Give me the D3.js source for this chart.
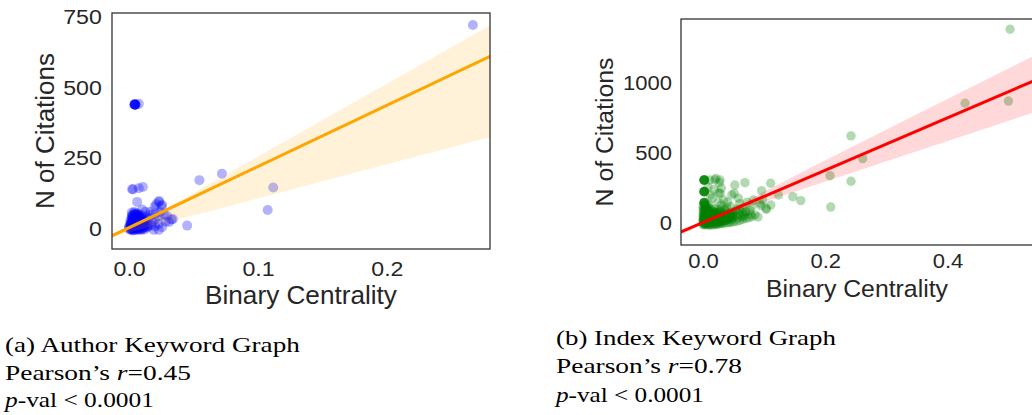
<!DOCTYPE html>
<html><head><meta charset="utf-8">
<script src="https://cdn.jsdelivr.net/npm/d3@7"></script>
<style>html,body{margin:0;padding:0;background:#fff;overflow:hidden}</style>
</head><body>
<svg id="chart" width="1032" height="415" xmlns="http://www.w3.org/2000/svg"></svg>
<script>
// ---------------- DATA ----------------
// (a) Author Keyword Graph: [binary centrality, number of citations]
const authorOutliers = [[0.2667,722],[0.0545,173],[0.072,196],[0.1118,147],[0.1075,67],[0.045,12],
  [0.0023,141],[0.0030,141],[0.0075,144],[0.0106,149],[0.0062,96]];
const authorStack = [[0.0040,441],[0.0042,441],[0.0044,440],[0.0046,441],[0.0048,441],[0.0050,440],[0.0043,442],[0.0047,440],[0.0075,443]];
const authorMid = [[0.0101,69],[0.0126,61],[0.023,96],[0.025,81],[0.0199,79],[0.0165,61],[0.0295,46],[0.0328,34],
  [0.0282,26],[0.0256,6],[0.0225,44],[0.0199,32],[0.0173,14],[0.023,18],[0.0153,38],[0.0126,20],[0.0204,55],[0.0134,44],
  [0.0191,-3],[0.023,-3],[0.0233,99],[0.0256,85],[0.021,88],[0.034,35],[0.031,25],[0.024,60],[0.027,50],[0.018,25],
  [0.015,10],[0.011,30],[0.009,45],[0.014,5],[0.016,50],[0.02,10]];
const authorBlob = [[0.000,0],[0.001,2],[0.002,5],[0.003,1],[0.004,8],[0.005,3],[0.006,10],[0.007,4],[0.008,12],[0.009,6],
  [0.010,2],[0.011,8],[0.000,10],[0.001,15],[0.002,20],[0.003,12],[0.004,25],[0.005,18],[0.006,30],[0.007,22],[0.008,28],
  [0.009,16],[0.010,20],[0.001,30],[0.002,35],[0.003,28],[0.004,40],[0.005,45],[0.006,38],[0.007,48],[0.008,42],[0.003,50],
  [0.004,55],[0.005,52],[0.006,56],[0.001,-2],[0.002,-4],[0.003,-5],[0.004,-3],[0.005,-1],[0.006,-4],[0.007,0],[0.008,-2],
  [0.009,-3],[0.010,-1],[0.012,-2],[0.002,42],[0.001,22],[0.000,5],[0.003,33],[0.004,17],[0.005,27],[0.006,21],[0.007,35],
  [0.008,33],[0.012,12],[0.011,40],[0.009,50],[0.004,60],[0.002,58]];
const authorCore = [[0.002,10],[0.003,15],[0.004,20],[0.005,25],[0.006,15],[0.007,10],[0.008,18],[0.002,25],[0.003,38],
  [0.004,32],[0.005,40],[0.006,45],[0.007,30],[0.008,24],[0.009,30],[0.010,35],[0.002,48],[0.003,44],[0.005,50],[0.006,48],
  [0.007,52],[0.001,8],[0.002,14],[0.003,22],[0.004,12],[0.005,8],[0.006,5],[0.007,15],[0.008,6],[0.009,10],[0.010,14],
  [0.011,18],[0.003,2],[0.004,4],[0.005,6],[0.006,2],[0.001,18],[0.002,0],[0.004,35],[0.005,30],[0.006,26],[0.007,40],
  [0.008,36],[0.009,25],[0.010,28],[0.011,22],[0.012,5],[0.013,10],[0.014,20],[0.012,28]];
const authorFitX = [-0.0133, 0.28];
const authorFitY = [-24, 611];
const authorBandX  = [-0.0133, 0.0, 0.01, 0.02, 0.04, 0.07, 0.1, 0.15, 0.2, 0.25, 0.28];
const authorBandLo = [-30, -12, 0, 12, 36, 72, 108, 169, 229, 289, 325];
const authorBandHi = [-18, 8, 30, 54, 102, 180, 257, 386, 514, 643, 720];
const authorXTicks = [0.0, 0.1, 0.2];
const authorYTicks = [0, 250, 500, 750];

// (b) Index Keyword Graph
const indexOutliers = [[0.5025,1386],[0.4288,857],[0.4998,873],[0.2422,624],[0.2614,462],[0.2078,340],[0.2422,300],[0.209,116]];
const indexStacks = [[0.001,309],[0.002,309],[0.0025,310],[0.0015,308],[0.003,309],[0.002,308],[0.0018,310],
  [0.001,226],[0.002,226],[0.0025,227],[0.0015,225],[0.003,226],[0.002,225],[0.0018,227],
  [0.001,147],[0.002,147],[0.0025,148],[0.0015,146],[0.003,147],[0.002,146],[0.0018,148]];
const indexMid = [[0.011,309],[0.0196,309],[0.028,309],[0.021,321],[0.0267,290],[0.026,216],[0.028,214],
  [0.052,273],[0.0687,290],[0.1107,286],[0.096,233],[0.1233,202],[0.147,190],[0.16,162],[0.111,131],[0.104,100],
  [0.0824,166],[0.093,143],[0.077,90],[0.066,47],[0.047,202],[0.051,214],[0.0977,166],[0.095,126],[0.0339,166],
  [0.078,64],[0.103,107],[0.015,180],[0.03,130],[0.04,150],[0.045,120],[0.055,100],[0.06,140],[0.035,100],[0.025,150],
  [0.065,110],[0.07,80],[0.085,60],[0.09,45],[0.08,120],[0.072,150],[0.058,180],[0.012,200],[0.018,240],[0.008,260],[0.03,250]];
const indexBlob = [[0.000,0],[0.001,5],[0.002,-5],[0.003,10],[0.004,2],[0.005,15],[0.006,-3],[0.007,8],[0.008,20],[0.009,4],
  [0.010,12],[0.011,-6],[0.012,18],[0.013,6],[0.014,25],[0.015,0],[0.016,14],[0.017,30],[0.018,9],[0.019,22],[0.020,-2],
  [0.021,35],[0.022,16],[0.023,28],[0.024,5],[0.025,40],[0.026,20],[0.027,12],[0.028,45],[0.029,30],[0.030,8],[0.031,52],
  [0.032,24],[0.033,38],[0.034,15],[0.035,58],[0.036,33],[0.037,47],[0.038,20],[0.039,62],[0.040,40],[0.041,28],[0.042,55],
  [0.043,70],[0.044,35],[0.045,48],[0.046,80],[0.047,25],[0.048,60],[0.049,42],[0.050,72],[0.052,55],[0.054,88],[0.056,40],
  [0.058,66],[0.060,95],[0.062,50],[0.064,78],[0.067,60],[0.070,85],[0.000,20],[0.001,40],[0.002,60],[0.003,80],[0.004,100],
  [0.002,30],[0.003,50],[0.004,70],[0.005,90],[0.006,110],[0.001,25],[0.005,35],[0.006,55],[0.007,75],[0.008,95],[0.009,45],
  [0.010,65],[0.011,85],[0.012,105],[0.013,50],[0.014,70],[0.015,90],[0.016,42],[0.017,62],[0.018,82],[0.019,102],[0.020,55],
  [0.022,75],[0.024,95],[0.026,60],[0.028,85],[0.030,100],[0.033,68],[0.036,90],[0.039,110],[0.000,-10],[0.003,-12],
  [0.006,-8],[0.009,-14],[0.012,-10],[0.015,-12],[0.018,-8],[0.021,-10],[0.024,-6],[0.027,-4],[0.030,-2],[0.034,0],[0.038,2],
  [0.042,5],[0.046,8],[0.050,10],[0.055,15],[0.060,20],[0.065,28],[0.070,35],[0.075,40],[0.080,48],[0.000,120],[0.002,130],
  [0.004,115],[0.006,125],[0.008,118],[0.010,135]];
const indexCore = [[0.001,10],[0.002,15],[0.003,0],[0.004,20],[0.005,5],[0.006,25],[0.007,12],[0.008,30],[0.009,-2],
  [0.010,22],[0.011,10],[0.012,35],[0.013,15],[0.014,40],[0.015,20],[0.016,5],[0.017,45],[0.018,25],[0.019,12],[0.020,40],
  [0.021,20],[0.022,50],[0.023,10],[0.024,30],[0.025,55],[0.026,35],[0.027,22],[0.028,60],[0.029,15],[0.030,40],[0.031,25],
  [0.032,62],[0.033,45],[0.034,30],[0.035,18],[0.036,50],[0.037,66],[0.038,35],[0.039,25],[0.040,55],[0.042,45],[0.044,60],
  [0.046,38],[0.048,50],[0.001,50],[0.002,45],[0.003,35],[0.004,55],[0.005,65],[0.006,40],[0.007,60],[0.008,50],[0.009,70],
  [0.010,45],[0.011,60],[0.012,75],[0.013,55],[0.014,65],[0.015,50],[0.016,72],[0.017,58],[0.018,68],[0.019,48],[0.020,78],
  [0.022,62],[0.024,70],[0.026,80],[0.000,30],[0.000,60],[0.000,90],[0.001,70],[0.002,85],[0.003,95],[0.001,100],[0.002,110],
  [0.003,65],[0.004,85],[0.005,75],[0.006,90],[0.007,100],[0.008,80],[0.010,90]];
const indexFitX = [-0.036, 0.54];
const indexFitY = [-62, 1015];
const indexBandX  = [-0.036, 0.0, 0.05, 0.1, 0.175, 0.25, 0.35, 0.45, 0.54];
const indexBandLo = [-82, -5, 81, 153, 261, 370, 515, 660, 790];
const indexBandHi = [-50, 12, 113, 226, 395, 560, 778, 997, 1193];
const indexXTicks = [0.0, 0.2, 0.4];
const indexYTicks = [0, 500, 1000];

const xLabel = "Binary Centrality";
const yLabel = "N of Citations";

// ---------------- DRAW ----------------
const svg = d3.select('#chart');
svg.append('rect').attr('width',1032).attr('height',415).attr('fill','#fff');
const SX = 1.13;
const TEXT = '#262626';

function panel(o) {
  const x = d3.scaleLinear().domain(o.xDom).range([o.left, o.right]);
  const y = d3.scaleLinear().domain(o.yDom).range([o.bottom, o.top]);
  const id = 'clip' + o.name;
  svg.append('clipPath').attr('id', id).append('rect')
    .attr('x', o.left).attr('y', o.top).attr('width', o.right - o.left).attr('height', o.bottom - o.top);
  const g = svg.append('g').attr('clip-path', `url(#${id})`);
  const pts = o.points;
  g.append('g').selectAll('circle').data(pts).join('circle')
    .attr('cx', d => x(d[0])).attr('cy', d => y(d[1])).attr('r', o.r)
    .attr('fill', o.color).attr('fill-opacity', 0.3);
  const band = o.bandX.map((v, i) => [v, o.bandLo[i], o.bandHi[i]]);
  g.append('path').datum(band)
    .attr('d', d3.area().x(d => x(d[0])).y0(d => y(d[1])).y1(d => y(d[2])))
    .attr('fill', o.lineColor).attr('fill-opacity', 0.15);
  const fit = o.fitX.map((v, i) => [v, o.fitY[i]]);
  g.append('path').datum(fit)
    .attr('d', d3.line().x(d => x(d[0])).y(d => y(d[1])))
    .attr('stroke', o.lineColor).attr('stroke-width', 3).attr('fill', 'none');
  // frame
  svg.append('rect').attr('x', o.left).attr('y', o.top)
    .attr('width', o.right - o.left).attr('height', o.bottom - o.top)
    .attr('fill', 'none').attr('stroke', '#333').attr('stroke-width', 1.3);
  // axes
  const ya = svg.append('g').attr('transform', `translate(${o.left},0)`)
    .call(d3.axisLeft(y).tickValues(o.yTicks).tickSize(0).tickPadding(o.yPad).tickFormat(d3.format('d')));
  ya.select('.domain').remove();
  ya.selectAll('text').attr('font-family', 'Liberation Sans, Arial, sans-serif')
    .attr('font-size', o.tickSize).attr('fill', TEXT).attr('transform', `scale(${SX},1)`);
  const xa = svg.append('g').attr('transform', `translate(0,${o.bottom})`)
    .call(d3.axisBottom(x).tickValues(o.xTicks).tickSize(0).tickFormat(d3.format('.1f')));
  xa.select('.domain').remove();
  xa.selectAll('.tick text').attr('y', o.xPad).attr('dy', null)
    .attr('font-family', 'Liberation Sans, Arial, sans-serif')
    .attr('font-size', o.tickSize).attr('fill', TEXT).attr('transform', `scale(${SX},1)`);
  // labels
  const xl = svg.append('text').text(xLabel).attr('text-anchor', 'middle')
    .attr('font-family', 'Liberation Sans, Arial, sans-serif').attr('font-size', o.labelSize).attr('fill', TEXT);
  const xs = o.xLabelW / xl.node().getComputedTextLength();
  xl.attr('transform', `translate(${o.xLabelX},${o.xLabelY}) scale(${xs},1)`);
  svg.append('text').text(yLabel).attr('text-anchor', 'middle')
    .attr('font-family', 'Liberation Sans, Arial, sans-serif').attr('font-size', o.yLabelSize).attr('fill', TEXT)
    .attr('transform', `translate(${o.yLabelX},${o.yLabelY}) rotate(-90)`);
}

panel({name:'a', left:112, right:490, top:13, bottom:249, xDom:[-0.0133,0.28], yDom:[-70.8,764.6],
  points: authorBlob.concat(authorCore, authorMid, authorOutliers, authorStack), r:5, color:'#0000ff', lineColor:'#ffa500',
  bandX:authorBandX, bandLo:authorBandLo, bandHi:authorBandHi, fitX:authorFitX, fitY:authorFitY,
  xTicks:authorXTicks, yTicks:authorYTicks, tickSize:20.5, yPad:9, xPad:27,
  labelSize:25, xLabelW:192, xLabelX:301, xLabelY:304, yLabelSize:26, yLabelX:54, yLabelY:131});

panel({name:'b', left:681, right:1033, top:19, bottom:245, xDom:[-0.036,0.54], yDom:[-155,1459],
  points: indexBlob.concat(indexCore, indexMid, indexOutliers, indexStacks), r:4.7, color:'#008000', lineColor:'#ff0000',
  bandX:indexBandX, bandLo:indexBandLo, bandHi:indexBandHi, fitX:indexFitX, fitY:indexFitY,
  xTicks:indexXTicks, yTicks:indexYTicks, tickSize:19.5, yPad:8, xPad:23.5,
  labelSize:24, xLabelW:182, xLabelX:857, xLabelY:297, yLabelSize:24.8, yLabelX:613, yLabelY:132});

// captions
function caption(x, y, parts, width) {
  const t = svg.append('text').attr('font-family', 'Liberation Serif, Times New Roman, serif')
    .attr('font-size', 21).attr('fill', '#000');
  parts.forEach(p => t.append('tspan').text(p[0]).attr('font-style', p[1] ? 'italic' : null));
  const s = width / t.node().getComputedTextLength();
  t.attr('transform', `translate(${x},${y}) scale(${s},1)`);
}
caption(5, 352, [['(a) Author Keyword Graph']], 295);
caption(5, 380, [['Pearson’s '], ['r', true], ['=0.45']], 186);
caption(5, 407, [['p', true], ['-val < 0.0001']], 149);
caption(556, 345, [['(b) Index Keyword Graph']], 280);
caption(556, 373, [['Pearson’s '], ['r', true], ['=0.78']], 186);
caption(556, 402, [['p', true], ['-val < 0.0001']], 148);
</script>
</body></html>
